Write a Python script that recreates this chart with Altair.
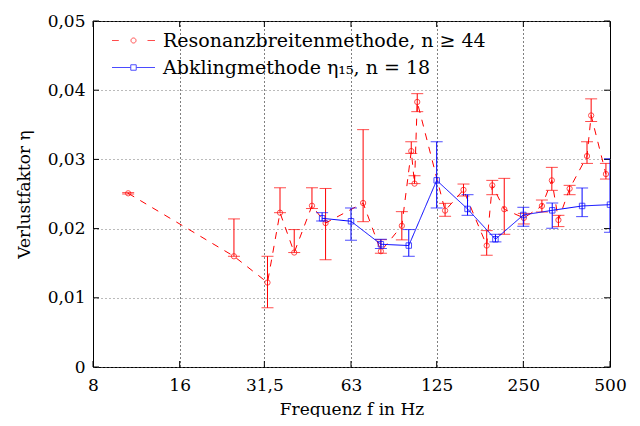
import altair as alt
import pandas as pd

# --- data ---
f_red = [10.6, 24.7, 32.3, 35.7, 40.0, 46.1, 51.4, 69.4, 80.0, 94.6, 102.0, 104.7, 107.0,
         133.7, 154.9, 186.5, 195.0, 214.6, 251.0, 290.0, 314.0, 331.0, 362.0, 416.0, 430.0, 484.0]
eta_red = [0.0251, 0.0160, 0.0122, 0.0223, 0.01654, 0.0233, 0.0208, 0.0237, 0.01673, 0.0204,
           0.0312, 0.0265, 0.0383, 0.0226, 0.0256, 0.01755, 0.02625, 0.0228, 0.02154, 0.02327,
           0.02697, 0.02125, 0.02577, 0.03048, 0.03635, 0.02788]
lo_red = [0.0250, 0.0160, 0.00856, 0.0223, 0.01654, 0.0229, 0.0155, 0.0210, 0.01644, 0.01837,
          0.03087, 0.0265, 0.0369, 0.02178, 0.02471, 0.01615, 0.0249, 0.01918, 0.02067, 0.0224,
          0.02553, 0.02029, 0.0249, 0.02942, 0.03548, 0.02716]
hi_red = [0.0252, 0.0214, 0.0160, 0.0259, 0.01986, 0.0259, 0.0258, 0.0343, 0.0184, 0.02245,
          0.03255, 0.02764, 0.0395, 0.02365, 0.02644, 0.01971, 0.02697, 0.02726, 0.0222, 0.02413,
          0.02885, 0.02192, 0.02625, 0.03255, 0.03875, 0.02942]

f_blue = [50, 63, 80, 100, 125, 160, 200, 250, 315, 400, 500]
eta_blue = [0.02149, 0.02106, 0.01774, 0.01755, 0.02697, 0.02284, 0.01846, 0.02197, 0.02264,
            0.02327, 0.02346]
lo_blue = [0.0211, 0.01832, 0.01712, 0.0160, 0.02298, 0.02192, 0.01808, 0.02034, 0.02005,
           0.02173, 0.01947]
hi_blue = [0.0223, 0.02298, 0.01846, 0.01986, 0.03255, 0.0249, 0.01918, 0.02308, 0.0237,
           0.02587, 0.0301]

x_ticks = [8, 16, 31.5, 63, 125, 250, 500]
y_ticks = [0, 0.01, 0.02, 0.03, 0.04, 0.05]

series_names = ["Resonanzbreitenmethode, n ≥ 44", "Abklingmethode η₁₅, n = 18"]

W, H = 517, 346
FONT = "DejaVu Serif, Liberation Serif, serif"
RED = "#ff0000"
BLUE = "#0000ff"

red = pd.DataFrame({"f": f_red, "eta": eta_red, "lo": lo_red, "hi": hi_red,
                    "series": series_names[0]})
blue = pd.DataFrame({"f": f_blue, "eta": eta_blue, "lo": lo_blue, "hi": hi_blue,
                     "series": series_names[1]})
both = pd.concat([red, blue], ignore_index=True)
xt = pd.DataFrame({"t": x_ticks})
yt = pd.DataFrame({"v": y_ticks})

xscale = alt.Scale(type="log", domain=[8, 500], nice=False)
yscale = alt.Scale(domain=[0, 0.05], nice=False)

xaxis = alt.Axis(values=x_ticks, labelExpr="replace('' + datum.value, '.', ',')",
                 grid=True, gridDash=[1, 3], gridColor="#000000", gridOpacity=1,
                 ticks=False, domain=False, title="Frequenz f in Hz",
                 labelPadding=10, titlePadding=8, labelFlush=False)
yaxis = alt.Axis(values=y_ticks,
                 labelExpr="datum.value == 0 ? '0' : replace(format(datum.value, '.2f'), '.', ',')",
                 grid=True, gridDash=[1, 3], gridColor="#777777", gridOpacity=1,
                 ticks=False, domain=False, title="Verlustfaktor η",
                 labelPadding=8, titlePadding=14, labelFlush=False)


def X(field):
    return alt.X(f"{field}:Q", scale=xscale, axis=xaxis)


def Y(field):
    return alt.Y(f"{field}:Q", scale=yscale, axis=yaxis)


def series_layers(df, color, dash, shape, size, cap):
    base = alt.Chart(df)
    line = base.mark_line(color=color, strokeWidth=1, strokeDash=dash, clip=True).encode(
        x=X("f"), y=Y("eta"), order="f:Q")
    err = base.mark_rule(color=color, strokeWidth=1, clip=True).encode(
        x=X("f"), y=Y("lo"), y2="hi:Q")
    cap_lo = base.mark_tick(color=color, orient="horizontal", size=cap, thickness=1,
                            clip=True).encode(x=X("f"), y=Y("lo"))
    cap_hi = base.mark_tick(color=color, orient="horizontal", size=cap, thickness=1,
                            clip=True).encode(x=X("f"), y=Y("hi"))
    pts = base.mark_point(color=color, shape=shape, size=size, filled=False,
                          strokeWidth=1, clip=True).encode(x=X("f"), y=Y("eta"))
    return [line, err, cap_lo, cap_hi, pts]


red_layers = series_layers(red, RED, [7, 7], "circle", 28, 12)
blue_layers = series_layers(blue, BLUE, [1, 0], "square", 30, 12)

# inward ticks on all four sides
xtick_b = alt.Chart(xt).mark_rule(color="black", strokeWidth=1).encode(
    x=X("t"), y=alt.value(H - 6), y2=alt.value(H))
xtick_t = alt.Chart(xt).mark_rule(color="black", strokeWidth=1).encode(
    x=X("t"), y=alt.value(0), y2=alt.value(6))
ytick_l = alt.Chart(yt).mark_rule(color="black", strokeWidth=1).encode(
    y=Y("v"), x=alt.value(0), x2=alt.value(6))
ytick_r = alt.Chart(yt).mark_rule(color="black", strokeWidth=1).encode(
    y=Y("v"), x=alt.value(W - 6), x2=alt.value(W))

red_sym = "M-6.14,0L-4.2,0M4.0,0L6.14,0M0.72,0A0.72,0.72 0 1 1 -0.72,0A0.72,0.72 0 1 1 0.72,0"
blue_sym = "M-6.14,0L-0.78,0M0.78,0L6.14,0M-0.78,-0.78L0.78,-0.78L0.78,0.78L-0.78,0.78Z"

legend_layer = alt.Chart(both).transform_filter("datum.f < 0").mark_point(
    filled=False, strokeWidth=1).encode(
    x=X("f"), y=Y("eta"),
    color=alt.Color("series:N",
                    scale=alt.Scale(domain=series_names, range=[RED, BLUE]),
                    legend=alt.Legend(title=None, orient="none", legendX=31, legendY=10,
                                      symbolSize=49, symbolStrokeWidth=1,
                                      labelFont=FONT, labelFontSize=19,
                                      labelColor="black", labelOffset=20,
                                      rowPadding=7, padding=0,
                                      labelLimit=500)),
    shape=alt.Shape("series:N",
                    scale=alt.Scale(domain=series_names, range=[red_sym, blue_sym])),
)

chart = alt.layer(
    xtick_b, xtick_t, ytick_l, ytick_r,
    *red_layers, *blue_layers, legend_layer
).properties(
    width=W, height=H,
    autosize=alt.AutoSizeParams(type="none"),
    padding={"left": 85, "top": 13, "right": 22, "bottom": 50},
    background="white",
).configure_view(
    stroke="black", strokeWidth=1
).configure_axis(
    labelFont=FONT, labelFontSize=17, labelColor="black",
    titleFont=FONT, titleFontSize=17, titleFontWeight="normal", titleColor="black",
)

chart.save("out.html", embed_options={"renderer": "svg", "actions": False})
